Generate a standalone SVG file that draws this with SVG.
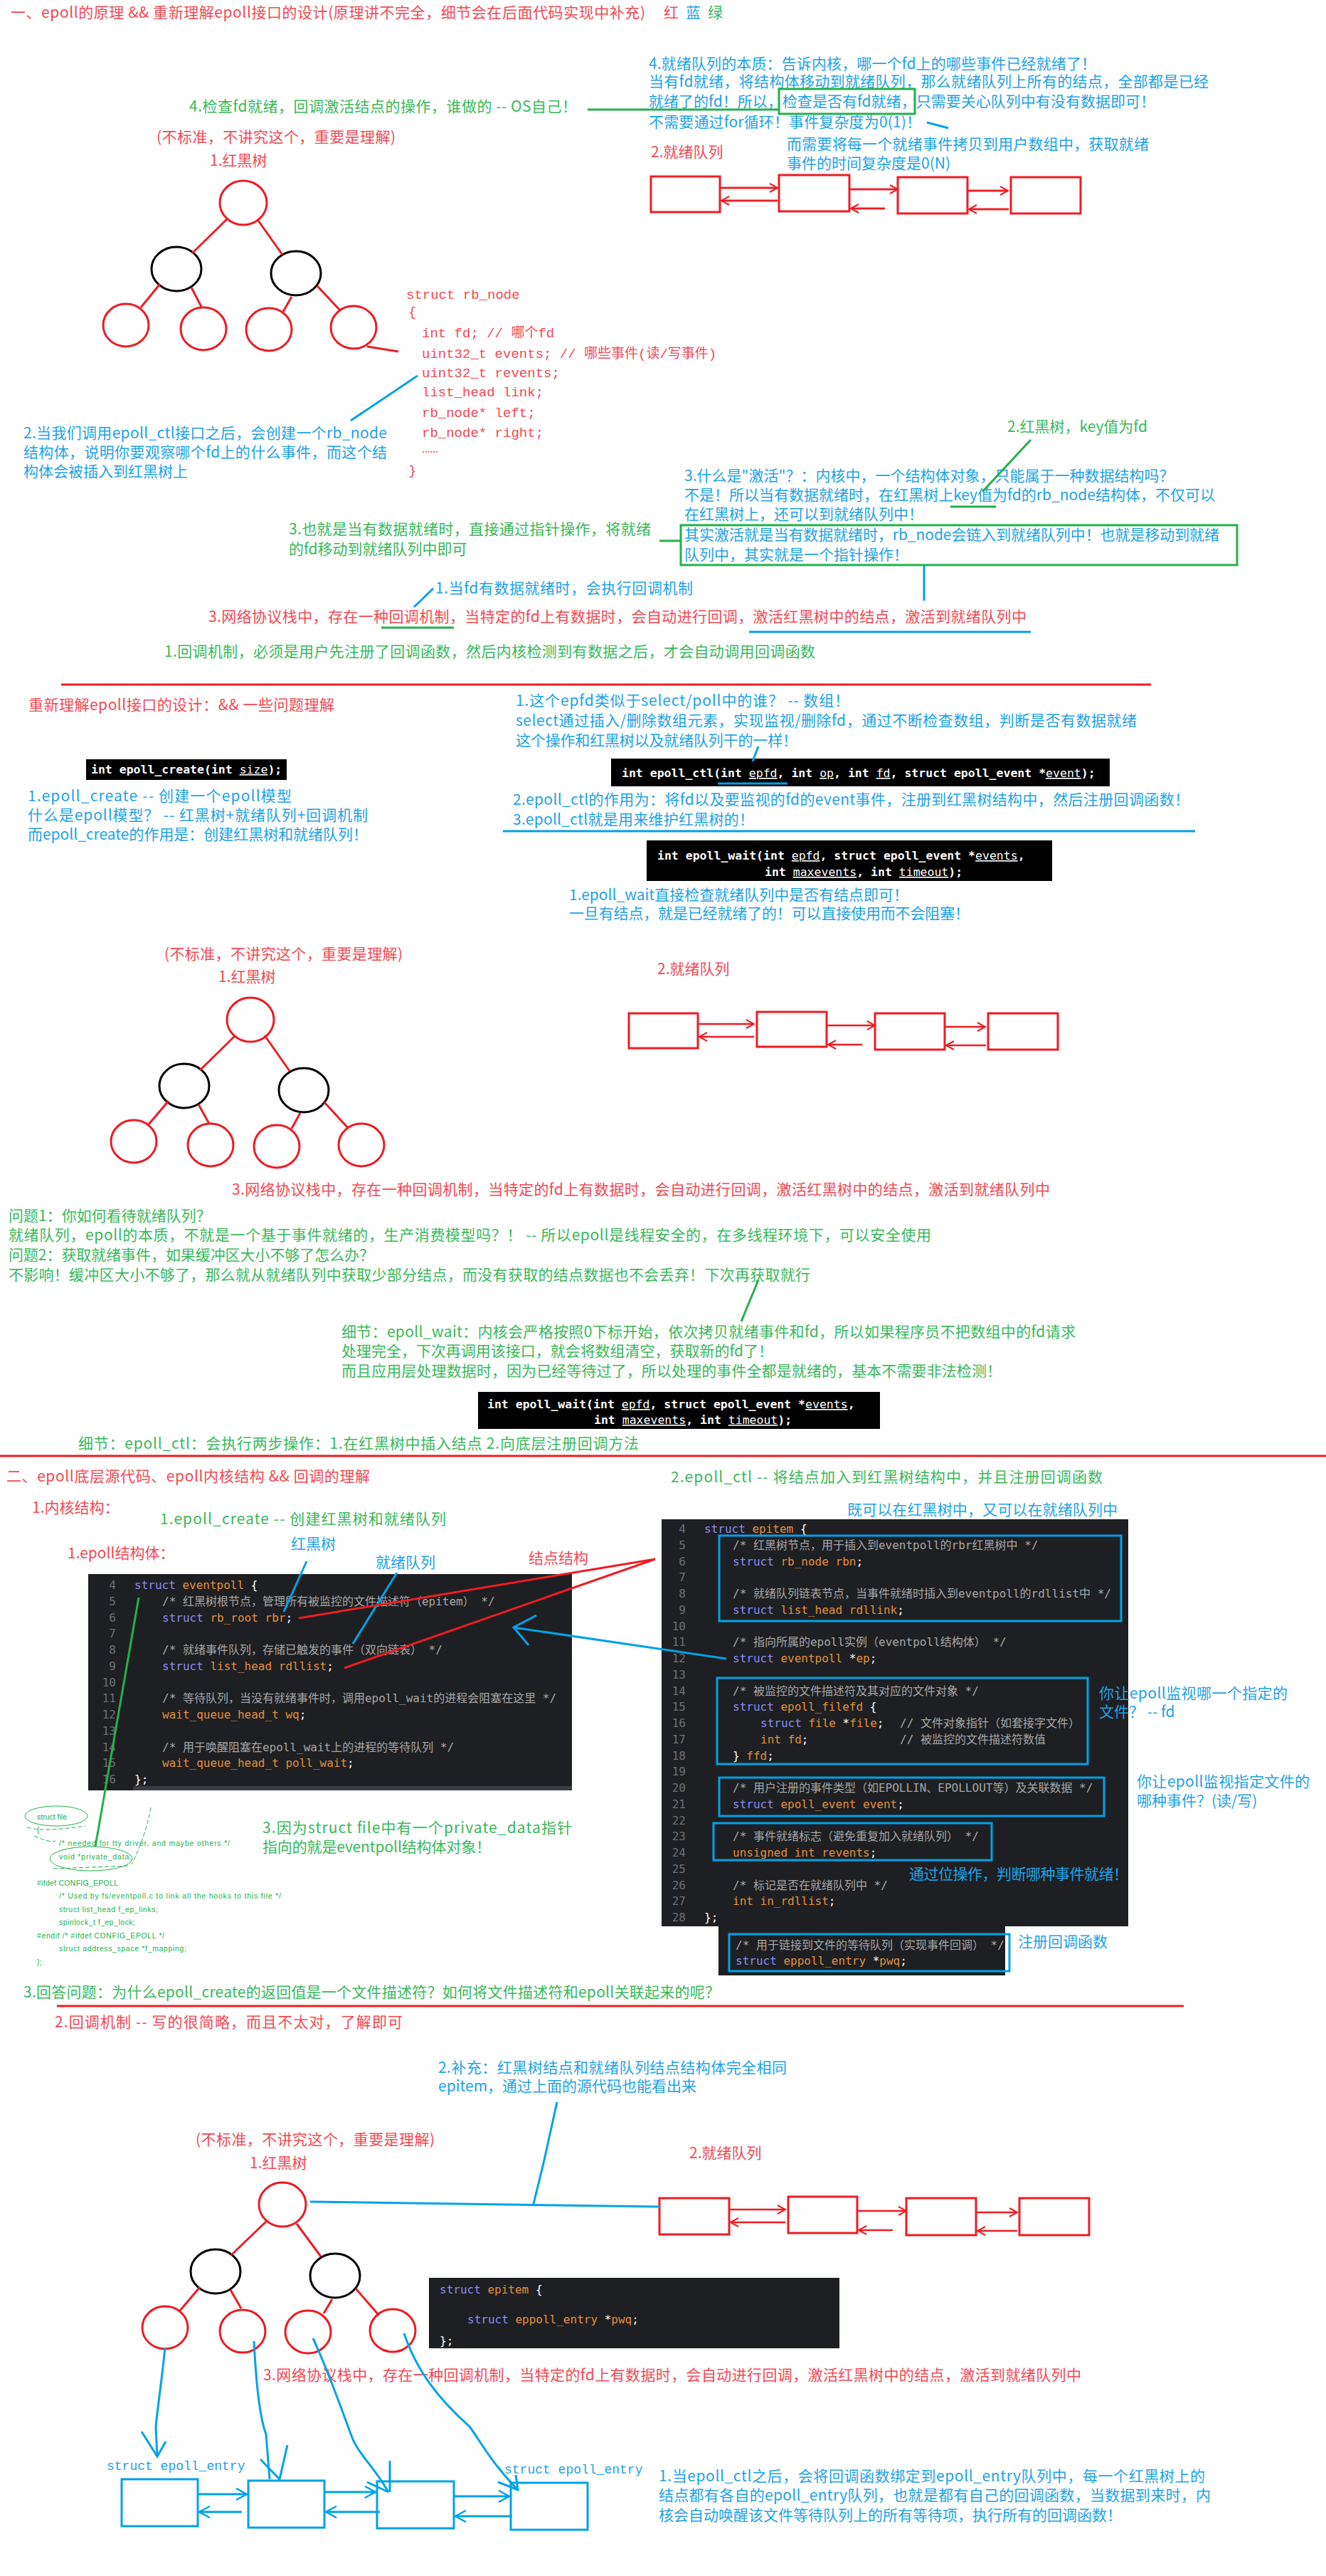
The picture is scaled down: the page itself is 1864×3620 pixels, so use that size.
<svg xmlns="http://www.w3.org/2000/svg" width="1864" height="3620" viewBox="0 0 1864 3620">
<style>
text{font-family:"Noto Sans CJK SC","Noto Sans",sans-serif;font-size:21px}
.r{fill:#f04a54}.b{fill:#1ea2e6}.g{fill:#3ab85a}
.mono{font-family:"Liberation Mono","Noto Sans CJK SC",monospace;font-size:19px}
.code{font-family:"DejaVu Sans Mono","Noto Sans CJK SC",monospace;font-size:16px}
.blk{font-family:"DejaVu Sans Mono","Noto Sans CJK SC",monospace;font-size:16.5px;font-weight:bold;fill:#fff}
.u{text-decoration:underline;font-weight:normal}
.kw{fill:#8b8cf4}.ty{fill:#e28f3b}.cm{fill:#a7a7a7}.pn{fill:#fff}.ln{fill:#6c6f78;text-anchor:end}
.small{font-family:"Liberation Sans",sans-serif;font-size:10.5px;fill:#22b14c}
.sr{stroke:#ed1c24;fill:none;stroke-width:3}
.sb{stroke:#00a2e8;fill:none;stroke-width:3}
.sg{stroke:#22b14c;fill:none;stroke-width:3}
.sk{stroke:#000;fill:none;stroke-width:3}
.dark{fill:#1e1f22}
.black{fill:#000}
</style>
<defs>
<marker id="ar" viewBox="0 0 14 14" refX="12" refY="7" markerWidth="14" markerHeight="14" markerUnits="userSpaceOnUse" orient="auto"><path d="M1,1 L12,7 L1,13" fill="none" stroke="#ed1c24" stroke-width="2"/></marker>
<marker id="ab" viewBox="0 0 18 18" refX="16" refY="9" markerWidth="18" markerHeight="18" markerUnits="userSpaceOnUse" orient="auto"><path d="M1,1 L16,9 L1,17" fill="none" stroke="#00a2e8" stroke-width="2.5"/></marker>
</defs>
<rect width="1864" height="3620" fill="#fff"/>

<!-- ===== Section 1 texts ===== -->
<g id="title1">
<text x="15" y="25" class="r" textLength="892">一、epoll的原理 &amp;&amp; 重新理解epoll接口的设计(原理讲不完全，细节会在后面代码实现中补充)</text>
<text x="933" y="25" class="r">红</text><text x="964" y="25" class="b">蓝</text><text x="995" y="25" class="g">绿</text>
</g>
<g id="note-os">
<text x="266" y="157" class="g" textLength="545">4.检查fd就绪，回调激活结点的操作，谁做的 -- OS自己！</text>
</g>
<g id="note-ready-essence">
<text x="912" y="97" class="b" textLength="629">4.就绪队列的本质：告诉内核，哪一个fd上的哪些事件已经就绪了！</text>
<text x="912" y="122" class="b" textLength="787">当有fd就绪，将结构体移动到就绪队列，那么就绪队列上所有的结点，全部都是已经</text>
<text x="912" y="150" class="b" textLength="712">就绪了的fd！所以，检查是否有fd就绪，只需要关心队列中有没有数据即可！</text>
<text x="912" y="179" class="b" textLength="383">不需要通过for循环！事件复杂度为0(1)！</text>
<rect x="1095" y="125" width="191" height="35" class="sg"/>
</g>
<g id="note-copy">
<text x="1106" y="210" class="b" textLength="509">而需要将每一个就绪事件拷贝到用户数组中，获取就绪</text>
<text x="1106" y="237" class="b">事件的时间复杂度是0(N)</text>
</g>
<g id="tree1-labels">
<text x="220" y="200" class="r" textLength="336">(不标准，不讲究这个，重要是理解)</text>
<text x="295" y="233" class="r">1.红黑树</text>
</g>
<g id="tree1">
<ellipse cx="342" cy="285" rx="33" ry="31" class="sr"/>
<ellipse cx="248" cy="378" rx="35" ry="31" class="sk"/>
<ellipse cx="416" cy="384" rx="35" ry="31" class="sk"/>
<ellipse cx="177" cy="457" rx="32" ry="30" class="sr"/>
<ellipse cx="286" cy="462" rx="32" ry="30" class="sr"/>
<ellipse cx="378" cy="463" rx="32" ry="30" class="sr"/>
<ellipse cx="497" cy="460" rx="32" ry="30" class="sr"/>
<path d="M319,308 L270,356 M363,310 L397,358 M225,399 L198,432 M269,404 L283,431 M410,417 L398,438 M446,402 L478,436" class="sr" stroke-width="2.5"/>
</g>
<g id="rb-node-code" class="mono">
<text x="571" y="420" class="r mono">struct rb_node</text>
<text x="574" y="444" class="r mono">{</text>
<text x="593" y="474" class="r mono">int fd; // 哪个fd</text>
<text x="593" y="503" class="r mono">uint32_t events; // 哪些事件(读/写事件)</text>
<text x="593" y="530" class="r mono">uint32_t revents;</text>
<text x="593" y="557" class="r mono">list_head link;</text>
<text x="593" y="586" class="r mono">rb_node* left;</text>
<text x="593" y="614" class="r mono">rb_node* right;</text>
<text x="593" y="636" class="r mono">……</text>
<text x="574" y="667" class="r mono">}</text>
</g>
<g id="queue1">
<text x="915" y="221" class="r">2.就绪队列</text>
<rect x="915" y="248" width="97" height="50" class="sr"/>
<rect x="1095" y="246" width="99" height="51" class="sr"/>
<rect x="1262" y="249" width="98" height="51" class="sr"/>
<rect x="1421" y="249" width="98" height="51" class="sr"/>
</g>
<g id="note-ctl-node">
<text x="33" y="616" class="b" textLength="511">2.当我们调用epoll_ctl接口之后，会创建一个rb_node</text>
<text x="33" y="643" class="b" textLength="511">结构体，说明你要观察哪个fd上的什么事件，而这个结</text>
<text x="33" y="670" class="b">构体会被插入到红黑树上</text>
</g>
<g id="note-key">
<text x="1416" y="607" class="g">2.红黑树，key值为fd</text>
</g>
<g id="note-activate">
<text x="962" y="676" class="b">3.什么是"激活"？：内核中，一个结构体对象，只能属于一种数据结构吗？</text>
<text x="962" y="703" class="b" textLength="746">不是！所以当有数据就绪时，在红黑树上key值为fd的rb_node结构体，不仅可以</text>
<text x="962" y="730" class="b">在红黑树上，还可以到就绪队列中！</text>
<rect x="957" y="738" width="782" height="56" class="sg"/>
<text x="962" y="759" class="b" textLength="752">其实激活就是当有数据就绪时，rb_node会链入到就绪队列中！也就是移动到就绪</text>
<text x="962" y="787" class="b">队列中，其实就是一个指针操作！</text>
</g>
<g id="note-pointer">
<text x="406" y="751" class="g" textLength="509">3.也就是当有数据就绪时，直接通过指针操作，将就绪</text>
<text x="406" y="779" class="g">的fd移动到就绪队列中即可</text>
</g>
<g id="note-callback">
<text x="612" y="834" class="b" textLength="362">1.当fd有数据就绪时，会执行回调机制</text>
<text x="293" y="874" class="r" textLength="1150">3.网络协议栈中，存在一种回调机制，当特定的fd上有数据时，会自动进行回调，激活红黑树中的结点，激活到就绪队列中</text>
<text x="231" y="923" class="g" textLength="915">1.回调机制，必须是用户先注册了回调函数，然后内核检测到有数据之后，才会自动调用回调函数</text>
</g>

<!-- ===== interface section ===== -->
<g id="interface-title">
<text x="40" y="998" class="r" textLength="430">重新理解epoll接口的设计：&amp;&amp; 一些问题理解</text>
</g>
<g id="epoll-create">
<rect x="121" y="1067" width="282" height="29" class="black"/>
<text x="128" y="1087" class="blk">int epoll_create(int <tspan class="u">size</tspan>);</text>
<text x="39" y="1126" class="b" textLength="371">1.epoll_create -- 创建一个epoll模型</text>
<text x="39" y="1153" class="b" textLength="478">什么是epoll模型？ -- 红黑树+就绪队列+回调机制</text>
<text x="39" y="1180" class="b" textLength="478">而epoll_create的作用是：创建红黑树和就绪队列！</text>
</g>
<g id="note-epfd">
<text x="725" y="992" class="b" textLength="469">1.这个epfd类似于select/poll中的谁？ -- 数组！</text>
<text x="725" y="1020" class="b" textLength="873">select通过插入/删除数组元素，实现监视/删除fd，通过不断检查数组，判断是否有数据就绪</text>
<text x="725" y="1048" class="b" textLength="396">这个操作和红黑树以及就绪队列干的一样！</text>
</g>
<g id="epoll-ctl">
<rect x="859" y="1066" width="701" height="39" class="black"/>
<text x="874" y="1092" class="blk">int epoll_ctl(int <tspan class="u">epfd</tspan>, int <tspan class="u">op</tspan>, int <tspan class="u">fd</tspan>, struct epoll_event *<tspan class="u">event</tspan>);</text>
<text x="721" y="1131" class="b" textLength="951">2.epoll_ctl的作用为：将fd以及要监视的fd的event事件，注册到红黑树结构中，然后注册回调函数！</text>
<text x="721" y="1159" class="b" textLength="339">3.epoll_ctl就是用来维护红黑树的！</text>
</g>
<g id="epoll-wait">
<rect x="909" y="1181" width="570" height="57" class="black"/>
<text x="924" y="1208" class="blk">int epoll_wait(int <tspan class="u">epfd</tspan>, struct epoll_event *<tspan class="u">events</tspan>,</text>
<text x="1075" y="1231" class="blk">int <tspan class="u">maxevents</tspan>, int <tspan class="u">timeout</tspan>);</text>
<text x="800" y="1265" class="b" textLength="477">1.epoll_wait直接检查就绪队列中是否有结点即可！</text>
<text x="800" y="1291" class="b" textLength="563">一旦有结点，就是已经就绪了的！可以直接使用而不会阻塞！</text>
</g>
<g id="tree2-labels">
<text x="231" y="1348" class="r" textLength="335">(不标准，不讲究这个，重要是理解)</text>
<text x="307" y="1380" class="r">1.红黑树</text>
</g>
<g id="tree2">
<ellipse cx="352" cy="1433" rx="33" ry="31" class="sr"/>
<ellipse cx="259" cy="1526" rx="35" ry="31" class="sk"/>
<ellipse cx="427" cy="1532" rx="35" ry="31" class="sk"/>
<ellipse cx="188" cy="1604" rx="32" ry="30" class="sr"/>
<ellipse cx="296" cy="1609" rx="32" ry="30" class="sr"/>
<ellipse cx="389" cy="1611" rx="32" ry="30" class="sr"/>
<ellipse cx="508" cy="1609" rx="32" ry="30" class="sr"/>
<path d="M330,1456 L281,1504 M372,1455 L407,1505 M237,1547 L209,1580 M279,1552 L294,1579 M422,1564 L410,1586 M456,1549 L489,1585" class="sr" stroke-width="2.5"/>
</g>
<g id="queue2">
<text x="924" y="1369" class="r">2.就绪队列</text>
<rect x="884" y="1424" width="97" height="49" class="sr"/>
<rect x="1064" y="1422" width="98" height="49" class="sr"/>
<rect x="1230" y="1424" width="98" height="51" class="sr"/>
<rect x="1389" y="1424" width="98" height="51" class="sr"/>
</g>
<g id="note-callback2">
<text x="326" y="1679" class="r" textLength="1150">3.网络协议栈中，存在一种回调机制，当特定的fd上有数据时，会自动进行回调，激活红黑树中的结点，激活到就绪队列中</text>
</g>
<g id="questions">
<text x="12" y="1716" class="g">问题1：你如何看待就绪队列？</text>
<text x="12" y="1743" class="g" textLength="1297">就绪队列，epoll的本质，不就是一个基于事件就绪的，生产消费模型吗？！ -- 所以epoll是线程安全的，在多线程环境下，可以安全使用</text>
<text x="12" y="1771" class="g" textLength="514">问题2：获取就绪事件，如果缓冲区大小不够了怎么办？</text>
<text x="12" y="1799" class="g" textLength="1127">不影响！缓冲区大小不够了，那么就从就绪队列中获取少部分结点，而没有获取的结点数据也不会丢弃！下次再获取就行</text>
</g>
<g id="detail-wait">
<text x="480" y="1879" class="g" textLength="1032">细节：epoll_wait：内核会严格按照0下标开始，依次拷贝就绪事件和fd，所以如果程序员不把数组中的fd请求</text>
<text x="480" y="1906" class="g" textLength="607">处理完全，下次再调用该接口，就会将数组清空，获取新的fd了！</text>
<text x="480" y="1934" class="g" textLength="928">而且应用层处理数据时，因为已经等待过了，所以处理的事件全都是就绪的，基本不需要非法检测！</text>
<rect x="672" y="1956" width="565" height="52" class="black"/>
<text x="685" y="1979" class="blk">int epoll_wait(int <tspan class="u">epfd</tspan>, struct epoll_event *<tspan class="u">events</tspan>,</text>
<text x="835" y="2001" class="blk">int <tspan class="u">maxevents</tspan>, int <tspan class="u">timeout</tspan>);</text>
</g>
<g id="detail-ctl">
<text x="110" y="2036" class="g" textLength="788">细节：epoll_ctl：会执行两步操作：1.在红黑树中插入结点 2.向底层注册回调方法</text>
</g>

<!-- ===== Section 2 ===== -->
<g id="title2">
<text x="9" y="2082" class="r" textLength="511">二、epoll底层源代码、epoll内核结构 &amp;&amp; 回调的理解</text>
<text x="45" y="2126" class="r">1.内核结构：</text>
<text x="225" y="2142" class="g" textLength="402">1.epoll_create -- 创建红黑树和就绪队列</text>
<text x="95" y="2190" class="r">1.epoll结构体：</text>
<text x="409" y="2177" class="b">红黑树</text>
<text x="528" y="2203" class="b">就绪队列</text>
<text x="743" y="2197" class="r">结点结构</text>
</g>
<g id="eventpoll-code" class="code">
<rect x="124" y="2212" width="680" height="304" class="dark"/>
<rect x="187" y="2510" width="617" height="6" fill="#3a3c42"/>
<text x="163" y="2233" class="code ln">4</text>
<text x="163" y="2255.75" class="code ln">5</text>
<text x="163" y="2278.5" class="code ln">6</text>
<text x="163" y="2301.25" class="code ln">7</text>
<text x="163" y="2324" class="code ln">8</text>
<text x="163" y="2346.75" class="code ln">9</text>
<text x="163" y="2369.5" class="code ln">10</text>
<text x="163" y="2392.25" class="code ln">11</text>
<text x="163" y="2415" class="code ln">12</text>
<text x="163" y="2437.75" class="code ln">13</text>
<text x="163" y="2460.5" class="code ln">14</text>
<text x="163" y="2483.25" class="code ln">15</text>
<text x="163" y="2506" class="code ln">16</text>
<text x="189" y="2233" class="code"><tspan class="kw">struct</tspan> <tspan class="ty">eventpoll</tspan> <tspan class="pn">{</tspan></text>
<text x="228" y="2255.75" class="code cm">/* 红黑树根节点，管理所有被监控的文件描述符（epitem） */</text>
<text x="228" y="2278.5" class="code"><tspan class="kw">struct</tspan> <tspan class="ty">rb_root rbr</tspan><tspan class="pn">;</tspan></text>
<text x="228" y="2324" class="code cm">/* 就绪事件队列，存储已触发的事件（双向链表） */</text>
<text x="228" y="2346.75" class="code"><tspan class="kw">struct</tspan> <tspan class="ty">list_head rdllist</tspan><tspan class="pn">;</tspan></text>
<text x="228" y="2392.25" class="code cm">/* 等待队列，当没有就绪事件时，调用epoll_wait的进程会阻塞在这里 */</text>
<text x="228" y="2415" class="code"><tspan class="ty">wait_queue_head_t wq</tspan><tspan class="pn">;</tspan></text>
<text x="228" y="2460.5" class="code cm">/* 用于唤醒阻塞在epoll_wait上的进程的等待队列 */</text>
<text x="228" y="2483.25" class="code"><tspan class="ty">wait_queue_head_t poll_wait</tspan><tspan class="pn">;</tspan></text>
<text x="189" y="2506" class="code pn">};</text>
</g>
<g id="struct-file-note">
<ellipse cx="79" cy="2552" rx="44" ry="14" fill="none" stroke="#22b14c" stroke-width="1"/>
<path d="M38,2568 Q60,2575 120,2566 M48,2580 Q70,2590 78,2587" fill="none" stroke="#22b14c" stroke-width="1" stroke-dasharray="6,3"/>
<ellipse cx="128" cy="2612" rx="58" ry="17" fill="none" stroke="#22b14c" stroke-width="1"/>
<path d="M212,2540 Q205,2580 185,2620 M75,2626 L180,2622" fill="none" stroke="#22b14c" stroke-width="1" stroke-dasharray="6,3"/>
<text x="52" y="2557" class="small">struct file</text>
<text x="52" y="2575" class="small">{</text>
<text x="83" y="2594" class="small" textLength="240">/* needed for tty driver, and maybe others */</text>
<text x="83" y="2613" class="small" textLength="102">void *private_data;</text>
<text x="52" y="2650" class="small" textLength="114">#ifdef CONFIG_EPOLL</text>
<text x="83" y="2668" class="small" textLength="312">/* Used by fs/eventpoll.c to link all the hooks to this file */</text>
<text x="83" y="2687" class="small" textLength="139">struct list_head f_ep_links;</text>
<text x="83" y="2705" class="small" textLength="107">spinlock_t f_ep_lock;</text>
<text x="52" y="2724" class="small" textLength="179">#endif /* #ifdef CONFIG_EPOLL */</text>
<text x="83" y="2742" class="small" textLength="179">struct address_space *f_mapping;</text>
<text x="52" y="2761" class="small">};</text>
<text x="369" y="2576" class="g" textLength="435">3.因为struct file中有一个private_data指针</text>
<text x="369" y="2603" class="g" textLength="321">指向的就是eventpoll结构体对象！</text>
</g>
<g id="epitem-code">
<text x="943" y="2083" class="g" textLength="607">2.epoll_ctl -- 将结点加入到红黑树结构中，并且注册回调函数</text>
<text x="1191" y="2129" class="b" textLength="380">既可以在红黑树中，又可以在就绪队列中</text>
<rect x="930" y="2135" width="656" height="572" class="dark"/>
<text x="964" y="2154" class="code ln">4</text>
<text x="964" y="2176.75" class="code ln">5</text>
<text x="964" y="2199.5" class="code ln">6</text>
<text x="964" y="2222.25" class="code ln">7</text>
<text x="964" y="2245" class="code ln">8</text>
<text x="964" y="2267.75" class="code ln">9</text>
<text x="964" y="2290.5" class="code ln">10</text>
<text x="964" y="2313.25" class="code ln">11</text>
<text x="964" y="2336" class="code ln">12</text>
<text x="964" y="2358.75" class="code ln">13</text>
<text x="964" y="2381.5" class="code ln">14</text>
<text x="964" y="2404.25" class="code ln">15</text>
<text x="964" y="2427" class="code ln">16</text>
<text x="964" y="2449.75" class="code ln">17</text>
<text x="964" y="2472.5" class="code ln">18</text>
<text x="964" y="2495.25" class="code ln">19</text>
<text x="964" y="2518" class="code ln">20</text>
<text x="964" y="2540.75" class="code ln">21</text>
<text x="964" y="2563.5" class="code ln">22</text>
<text x="964" y="2586.25" class="code ln">23</text>
<text x="964" y="2609" class="code ln">24</text>
<text x="964" y="2631.75" class="code ln">25</text>
<text x="964" y="2654.5" class="code ln">26</text>
<text x="964" y="2677.25" class="code ln">27</text>
<text x="964" y="2700" class="code ln">28</text>
<text x="990" y="2154" class="code"><tspan class="kw">struct</tspan> <tspan class="ty">epitem</tspan> <tspan class="pn">{</tspan></text>
<text x="1030" y="2176.75" class="code cm">/* 红黑树节点，用于插入到eventpoll的rbr红黑树中 */</text>
<text x="1030" y="2199.5" class="code"><tspan class="kw">struct</tspan> <tspan class="ty">rb_node rbn</tspan><tspan class="pn">;</tspan></text>
<text x="1030" y="2245" class="code cm">/* 就绪队列链表节点，当事件就绪时插入到eventpoll的rdllist中 */</text>
<text x="1030" y="2267.75" class="code"><tspan class="kw">struct</tspan> <tspan class="ty">list_head rdllink</tspan><tspan class="pn">;</tspan></text>
<text x="1030" y="2313.25" class="code cm">/* 指向所属的epoll实例（eventpoll结构体） */</text>
<text x="1030" y="2336" class="code"><tspan class="kw">struct</tspan> <tspan class="ty">eventpoll</tspan> <tspan class="pn">*</tspan><tspan class="ty">ep</tspan><tspan class="pn">;</tspan></text>
<text x="1030" y="2381.5" class="code cm">/* 被监控的文件描述符及其对应的文件对象 */</text>
<text x="1030" y="2404.25" class="code"><tspan class="kw">struct</tspan> <tspan class="ty">epoll_filefd</tspan> <tspan class="pn">{</tspan></text>
<text x="1069" y="2427" class="code"><tspan class="kw">struct</tspan> <tspan class="ty">file</tspan> <tspan class="pn">*</tspan><tspan class="ty">file</tspan><tspan class="pn">;</tspan></text>
<text x="1265" y="2427" class="code cm">// 文件对象指针（如套接字文件）</text>
<text x="1069" y="2449.75" class="code"><tspan class="ty">int fd</tspan><tspan class="pn">;</tspan></text>
<text x="1265" y="2449.75" class="code cm">// 被监控的文件描述符数值</text>
<text x="1030" y="2472.5" class="code"><tspan class="pn">}</tspan> <tspan class="ty">ffd</tspan><tspan class="pn">;</tspan></text>
<text x="1030" y="2518" class="code cm">/* 用户注册的事件类型（如EPOLLIN、EPOLLOUT等）及关联数据 */</text>
<text x="1030" y="2540.75" class="code"><tspan class="kw">struct</tspan> <tspan class="ty">epoll_event event</tspan><tspan class="pn">;</tspan></text>
<text x="1030" y="2586.25" class="code cm">/* 事件就绪标志（避免重复加入就绪队列） */</text>
<text x="1030" y="2609" class="code"><tspan class="ty">unsigned int revents</tspan><tspan class="pn">;</tspan></text>
<text x="1030" y="2654.5" class="code cm">/* 标记是否在就绪队列中 */</text>
<text x="1030" y="2677.25" class="code"><tspan class="ty">int in_rdllist</tspan><tspan class="pn">;</tspan></text>
<text x="990" y="2700" class="code pn">};</text>
<rect x="1011" y="2158" width="565" height="120" class="sb"/>
<rect x="1008" y="2358" width="521" height="121" class="sb"/>
<rect x="1011" y="2498" width="541" height="54" class="sb"/>
<rect x="1003" y="2562" width="391" height="52" class="sb"/>
<text x="1278" y="2641" class="b" textLength="308">通过位操作，判断哪种事件就绪！</text>
<rect x="1010" y="2707" width="403" height="69" class="dark"/>
<rect x="1025" y="2718" width="394" height="52" class="sb"/>
<text x="1034" y="2739" class="code cm">/* 用于链接到文件的等待队列（实现事件回调） */</text>
<text x="1034" y="2761" class="code"><tspan class="kw">struct</tspan> <tspan class="ty">eppoll_entry</tspan> <tspan class="pn">*</tspan><tspan class="ty">pwq</tspan><tspan class="pn">;</tspan></text>
<text x="1431" y="2736" class="b">注册回调函数</text>
<text x="1545" y="2387" class="b" textLength="265">你让epoll监视哪一个指定的</text>
<text x="1545" y="2413" class="b">文件？ -- fd</text>
<text x="1598" y="2511" class="b" textLength="243">你让epoll监视指定文件的</text>
<text x="1598" y="2538" class="b">哪种事件？(读/写)</text>
</g>
<g id="answer">
<text x="33" y="2807" class="g" textLength="979">3.回答问题：为什么epoll_create的返回值是一个文件描述符？如何将文件描述符和epoll关联起来的呢？</text>
<text x="77" y="2849" class="r" textLength="489">2.回调机制 -- 写的很简略，而且不太对，了解即可</text>
<text x="616" y="2913" class="b" textLength="490">2.补充：红黑树结点和就绪队列结点结构体完全相同</text>
<text x="616" y="2939" class="b">epitem，通过上面的源代码也能看出来</text>
</g>
<g id="tree3-labels">
<text x="275" y="3014" class="r" textLength="336">(不标准，不讲究这个，重要是理解)</text>
<text x="351" y="3047" class="r">1.红黑树</text>
</g>
<g id="tree3">
<ellipse cx="397" cy="3098" rx="33" ry="31" class="sr"/>
<ellipse cx="303" cy="3192" rx="35" ry="31" class="sk"/>
<ellipse cx="471" cy="3198" rx="35" ry="31" class="sk"/>
<ellipse cx="232" cy="3271" rx="32" ry="30" class="sr"/>
<ellipse cx="341" cy="3276" rx="32" ry="30" class="sr"/>
<ellipse cx="433" cy="3277" rx="32" ry="30" class="sr"/>
<ellipse cx="552" cy="3275" rx="32" ry="30" class="sr"/>
<path d="M374,3122 L325,3169 M417,3125 L451,3171 M281,3214 L253,3247 M324,3218 L339,3244 M467,3231 L455,3251 M500,3216 L533,3254" class="sr" stroke-width="2.5"/>
</g>
<g id="queue3">
<text x="969" y="3033" class="r">2.就绪队列</text>
<rect x="927" y="3089" width="98" height="51" class="sr"/>
<rect x="1108" y="3087" width="97" height="51" class="sr"/>
<rect x="1274" y="3089" width="98" height="52" class="sr"/>
<rect x="1433" y="3089" width="98" height="52" class="sr"/>
</g>
<g id="epitem-small">
<rect x="603" y="3201" width="577" height="99" class="dark"/>
<text x="618" y="3223" class="code"><tspan class="kw">struct</tspan> <tspan class="ty">epitem</tspan> <tspan class="pn">{</tspan></text>
<text x="657" y="3265" class="code"><tspan class="kw">struct</tspan> <tspan class="ty">eppoll_entry</tspan> <tspan class="pn">*</tspan><tspan class="ty">pwq</tspan><tspan class="pn">;</tspan></text>
<text x="618" y="3295" class="code pn">};</text>
</g>
<g id="note-callback3">
<text x="370" y="3345" class="r" textLength="1150">3.网络协议栈中，存在一种回调机制，当特定的fd上有数据时，会自动进行回调，激活红黑树中的结点，激活到就绪队列中</text>
</g>
<g id="entry-queue">
<text x="150" y="3471" class="b mono" font-size="18" style="font-size:18px">struct epoll_entry</text>
<text x="709" y="3476" class="b mono" style="font-size:18px">struct epoll_entry</text>
<rect x="171" y="3484" width="107" height="66" class="sb"/>
<rect x="349" y="3486" width="107" height="66" class="sb"/>
<rect x="530" y="3487" width="108" height="66" class="sb"/>
<rect x="718" y="3489" width="108" height="66" class="sb"/>
</g>
<g id="note-entry">
<text x="926" y="3487" class="b" textLength="768">1.当epoll_ctl之后，会将回调函数绑定到epoll_entry队列中，每一个红黑树上的</text>
<text x="926" y="3514" class="b" textLength="776">结点都有各自的epoll_entry队列，也就是都有自己的回调函数，当数据到来时，内</text>
<text x="926" y="3542" class="b" textLength="651">核会自动唤醒该文件等待队列上的所有等待项，执行所有的回调函数！</text>
</g>

<!-- ===== connectors ===== -->
<g id="connectors">
<path d="M826,154 L1095,154" class="sg"/>
<path d="M1303,172 L1333,180" class="sb"/>
<path d="M516,487 L560,494" class="sr"/>
<path d="M587,528 L493,591" class="sb" stroke-width="2.5"/>
<path d="M1449,618 L1381,691" class="sg" stroke-width="2.5"/>
<path d="M1336,712 L1400,712" class="sg"/>
<path d="M927,760 L957,760" class="sg"/>
<path d="M1299,794 L1299,844" class="sb"/>
<path d="M609,827 L582,853" class="sb" stroke-width="2.5"/>
<path d="M536,882 L638,882" class="sg"/>
<path d="M1053,888 L1449,888" class="sb"/>
<path d="M86,962 L1618,962" class="sr"/>
<path d="M1009,1101 L1107,1101" class="sb"/>
<path d="M1066,1049 L1058,1070" class="sb" stroke-width="2"/>
<path d="M707,1168 L1680,1168" class="sb"/>
<path d="M1066,1799 L1042,1857" class="sg" stroke-width="2"/>
<path d="M0,2046 L1864,2046" class="sr"/>
<path d="M431,2194 L399,2265" class="sb" stroke-width="2.5"/>
<path d="M558,2210 L496,2310" class="sb" stroke-width="2.5"/>
<path d="M921,2191 L420,2274 M921,2191 L484,2344" class="sr"/>
<path d="M1021,2331 L722,2287" class="sb"/>
<path d="M754,2270 L722,2287 L743,2312" class="sb"/>
<path d="M195,2245 L134,2595" class="sg" stroke-width="2"/>
<path d="M80,2819 L1664,2819" class="sr"/>
<path d="M783,2954 L764,3040 L750,3097" class="sb"/>
<path d="M436,3094 L927,3101" class="sb"/>
<!-- queue 1 arrows -->
<path d="M1012,264 L1093,264 M1093,282 L1014,282 M1194,266 L1262,266 M1244,293 L1196,293 M1360,268 L1417,268 M1418,294 L1362,294" stroke="#ed1c24" stroke-width="2.5" fill="none"/>
<g stroke="#ed1c24" stroke-width="2.5" fill="none" marker-end="url(#ar)">
<path d="M1012,264 L1093,264"/><path d="M1093,282 L1014,282"/><path d="M1194,266 L1262,266"/><path d="M1244,293 L1196,293"/><path d="M1360,268 L1417,268"/><path d="M1418,294 L1362,294"/>
<path d="M981,1439 L1060,1439"/><path d="M1060,1457 L983,1457"/><path d="M1162,1441 L1230,1441"/><path d="M1212,1468 L1164,1468"/><path d="M1328,1443 L1385,1443"/><path d="M1386,1469 L1330,1469"/>
<path d="M1025,3105 L1104,3105"/><path d="M1104,3123 L1027,3123"/><path d="M1205,3107 L1274,3107"/><path d="M1255,3134 L1207,3134"/><path d="M1372,3109 L1430,3109"/><path d="M1430,3135 L1374,3135"/>
</g>
<g stroke="#00a2e8" stroke-width="3" fill="none" marker-end="url(#ab)">
<path d="M278,3505 L347,3505"/><path d="M340,3530 L280,3530"/><path d="M456,3502 L528,3502"/><path d="M534,3530 L458,3530"/><path d="M638,3508 L716,3508"/><path d="M720,3536 L640,3536"/>
</g>
<g class="sb">
<path d="M232,3299 C228,3340 222,3380 219,3410 L221,3452"/>
<path d="M199,3417 L221,3452 L233,3431"/>
<path d="M357,3290 C360,3350 366,3400 374,3421 L379,3484"/>
<path d="M366,3456 L393,3484 L404,3436"/>
<path d="M440,3286 C465,3340 485,3400 496,3428 C505,3450 525,3465 546,3502"/>
<path d="M548,3458 L548,3502 M516,3488 L546,3502"/>
<path d="M568,3279 C585,3330 615,3370 660,3410 C675,3430 690,3460 728,3499"/>
<path d="M700,3488 L728,3499 L725,3478"/>
</g>
</g>
</svg>
